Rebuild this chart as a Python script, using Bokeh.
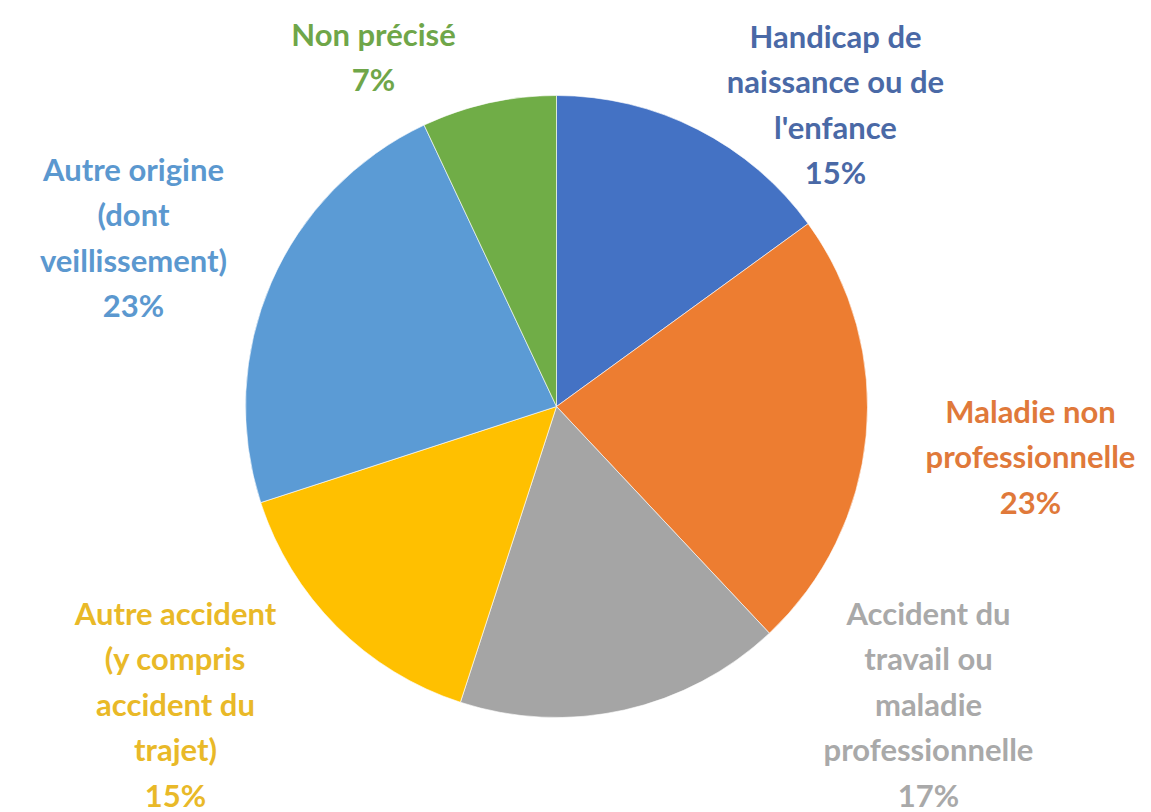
import math
from bokeh.plotting import figure
from bokeh.models import ColumnDataSource, Range1d
from bokeh.core.properties import value
from bokeh.embed import file_html
from bokeh.resources import INLINE

# ---- data ----
categories = [
    "Handicap de\nnaissance ou de\nl'enfance",
    "Maladie non\nprofessionnelle",
    "Accident du\ntravail ou\nmaladie\nprofessionnelle",
    "Autre accident\n(y compris\naccident du\ntrajet)",
    "Autre origine\n(dont\nveillissement)",
    "Non précisé",
]
shares = [15, 23, 17, 15, 23, 7]
slice_colors = ["#4472C4", "#ED7D31", "#A5A5A5", "#FFC000", "#5B9BD5", "#70AD47"]
label_colors = ["#4A69A6", "#E0793A", "#A9A9A9", "#E9B928", "#5B98CF", "#6FA649"]

# ---- layout (pixels) ----
W, H = 1151, 812
cx, cy, R = 556, H - 406, 311
# label block centres (x, top-line y) in screen pixels
label_pos = [(835, 35), (1030, 410), (928, 612), (175, 612), (133, 168), (373, 33)]
FS = 31
LH = 45.5

total = float(sum(shares))
starts, ends = [], []
cum = 0.0
for s in shares:
    a0 = cum / total
    cum += s
    a1 = cum / total
    # clockwise from 12 o'clock
    starts.append(math.pi / 2 - 2 * math.pi * a1)
    ends.append(math.pi / 2 - 2 * math.pi * a0)

src = ColumnDataSource(dict(
    x=[cx] * len(shares), y=[cy] * len(shares),
    start=starts, end=ends, color=slice_colors,
))

p = figure(width=W, height=H, x_range=Range1d(0, W), y_range=Range1d(0, H),
           x_axis_type=None, y_axis_type=None, toolbar_location=None,
           output_backend="svg", min_border=0)
p.grid.visible = False
p.outline_line_color = None
p.background_fill_color = "white"
p.border_fill_color = "white"

p.wedge(x="x", y="y", radius=R, start_angle="start", end_angle="end",
        fill_color="color", line_color="white", line_width=0.6, source=src)

lx, ly, lt, lc = [], [], [], []
for cat, sh, col, (px, py) in zip(categories, shares, label_colors, label_pos):
    lines = cat.split("\n") + [f"{sh}%"]
    for i, ln in enumerate(lines):
        lx.append(px)
        ly.append(H - (py + i * LH))
        lt.append(ln)
        lc.append(col)

p.text(x=lx, y=ly, text=lt, text_color=lc, text_align="center",
       text_baseline="middle", text_font=value("Lato"), text_font_style="bold",
       text_font_size=f"{FS}px")

open("out.html", "w").write(file_html(p, INLINE))
